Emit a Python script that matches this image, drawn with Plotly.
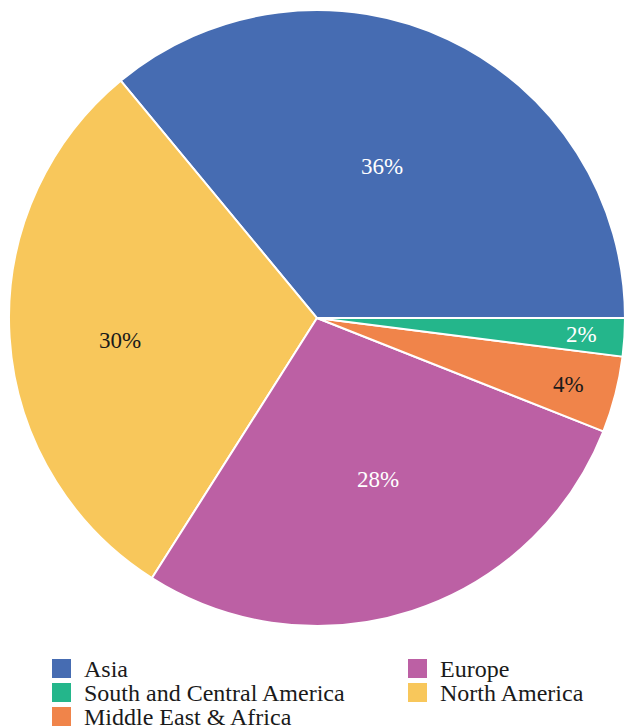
import math
import plotly.graph_objects as go

# Share of the total by region (percent), in counterclockwise order from 3 o'clock
regions = ["Asia", "North America", "Europe", "Middle East & Africa", "South and Central America"]
shares = [36, 30, 28, 4, 2]
colors = ["#466cb2", "#f8c75b", "#bc60a4", "#f0844a", "#24b68b"]
label_colors = ["white", "#1a1a1a", "white", "#1a1a1a", "white"]

# Where each percentage label sits: fraction of the radius, and a small angular nudge (deg)
label_radius = [0.535, 0.645, 0.56, 0.845, 0.86]
label_nudge = [1.9, 2.8, 2.6, -0.5, 0.0]

# Key below the pie: (region, column, row)
key_slots = [
    ("Asia", 0, 0), ("Europe", 1, 0),
    ("South and Central America", 0, 1), ("North America", 1, 1),
    ("Middle East & Africa", 0, 2),
]

FONT = "Liberation Serif"
W, H = 625, 726
color_of = dict(zip(regions, colors))

# Pie domain (paper fractions)
dom_x = [0.0144, 1.0]
dom_y = [0.1377, 0.9862]

# With counterclockwise direction the first slice lies clockwise of the rotation line,
# so rotate back by its size to make it begin at 3 o'clock.
total = sum(shares)
rotation = 90 - shares[0] / total * 360

fig = go.Figure()
fig.add_trace(go.Pie(
    labels=regions,
    values=shares,
    sort=False,
    direction="counterclockwise",
    rotation=rotation,
    marker=dict(colors=colors, line=dict(color="white", width=2)),
    textinfo="none",
    showlegend=False,
    hoverinfo="label+percent",
    domain=dict(x=dom_x, y=dom_y),
))

# Percentage labels placed along each slice's bisector
cx = (dom_x[0] + dom_x[1]) / 2 * W
cy = (1 - (dom_y[0] + dom_y[1]) / 2) * H
radius = min((dom_x[1] - dom_x[0]) * W, (dom_y[1] - dom_y[0]) * H) / 2
start = 0.0
for share, frac, nudge, tcol in zip(shares, label_radius, label_nudge, label_colors):
    sweep = share / total * 360
    mid = math.radians(start + sweep / 2 + nudge)
    px = cx + frac * radius * math.cos(mid)
    py = cy - frac * radius * math.sin(mid)
    fig.add_annotation(
        x=px / W, y=1 - py / H, xref="paper", yref="paper",
        text=f"{round(share / total * 100)}%", showarrow=False,
        font=dict(family=FONT, size=23, color=tcol),
        xanchor="center", yanchor="middle",
    )
    start += sweep

# Key: coloured squares with region names, two columns
col_left = [52, 408]             # px, left edge of each swatch column
row_mid = [668.5, 692.5, 716.5]  # px, vertical centre of each row
swatch = 19                      # px
text_gap = 11                    # px between swatch and annotation box
for region, col, row in key_slots:
    x0 = col_left[col]
    yc = row_mid[row]
    fig.add_shape(
        type="rect", xref="paper", yref="paper",
        x0=x0 / W, x1=(x0 + swatch) / W,
        y0=1 - (yc + swatch / 2) / H, y1=1 - (yc - swatch / 2) / H,
        fillcolor=color_of[region], line=dict(width=0),
    )
    fig.add_annotation(
        x=(x0 + swatch + text_gap) / W, y=1 - yc / H, xref="paper", yref="paper",
        text=region, showarrow=False,
        font=dict(family=FONT, size=24, color="#1a1a1a"),
        xanchor="left", yanchor="middle",
    )

fig.update_layout(
    width=W, height=H,
    margin=dict(l=0, r=0, t=0, b=0),
    paper_bgcolor="white", plot_bgcolor="white",
    showlegend=False,
)

fig.write_html("out.html")
